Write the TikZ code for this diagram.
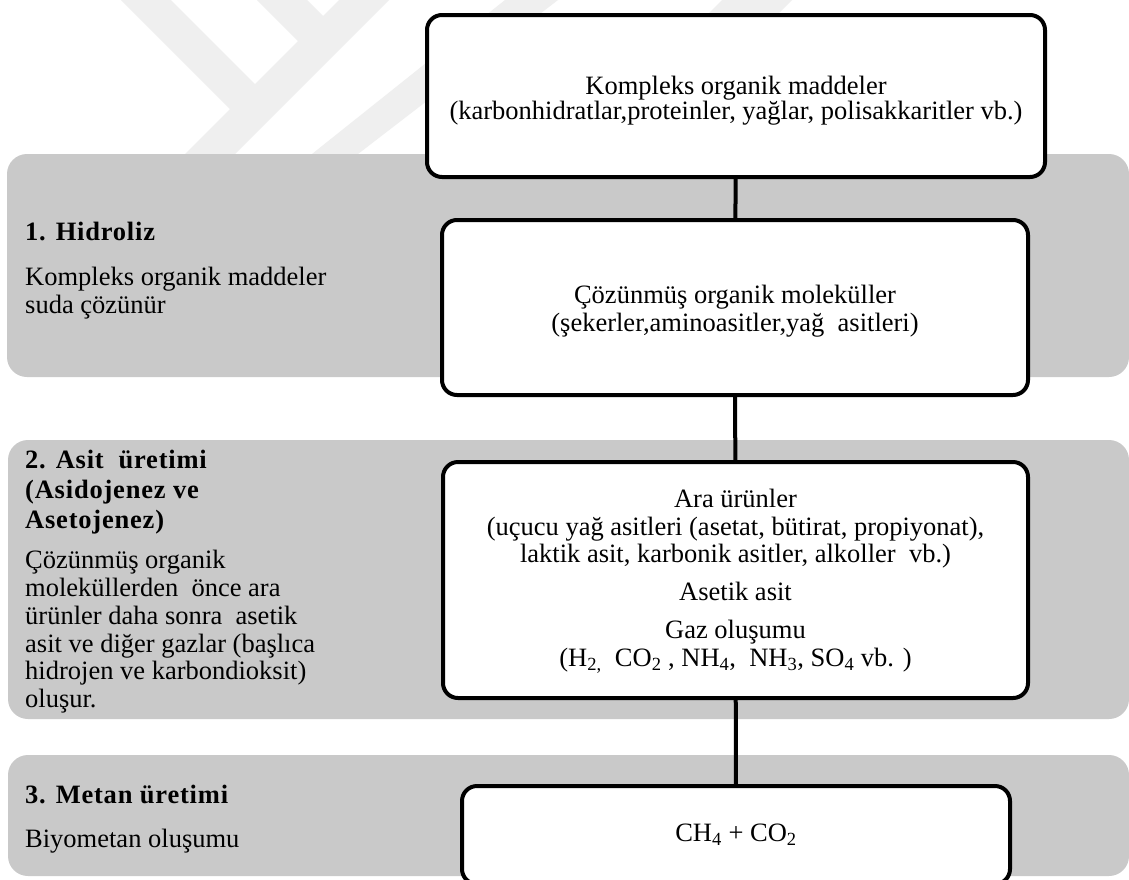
\documentclass[tikz,border=0pt]{standalone}
\usepackage{fontspec}
\setmainfont{Liberation Serif}

\definecolor{bandgray}{RGB}{201,201,201}
\definecolor{markgray}{RGB}{239,239,239}

\newcommand{\boxfont}{\fontsize{26.5}{27.5}\selectfont}
\newcommand{\stagefont}{\fontsize{26.5}{30}\selectfont\bfseries\addfontfeatures{LetterSpace=3}}
\newcommand{\stagenotefont}{\fontsize{26.5}{27.8}\selectfont}
\newcommand{\lift}[1]{\rule{0pt}{#1}}

\begin{document}
\begin{tikzpicture}[x=1pt,y=-1pt,
  band/.style={fill=bandgray, rounded corners=20pt},
  wmark/.style={fill=markgray},
  stepbox/.style={draw, line width=4pt, fill=white, rounded corners=15pt,
    align=center, inner sep=0pt, font=\boxfont},
  link/.style={line width=4pt},
  stagehead/.style={anchor=north west, align=left, inner sep=0pt, font=\stagefont},
  stagenote/.style={anchor=north west, align=left, inner sep=0pt, font=\stagenotefont}]

\fill[white] (0,0) rectangle (1129,879);
\useasboundingbox (0,0) rectangle (1129,879);
\clip (0,0) rectangle (1129,879);

% faint watermark
\fill[wmark] (121,0) -- (171,0) -- (275,104) -- (250,129) -- cycle;
\fill[wmark] (185,154) -- (235,154) -- (389,0) -- (339,0) -- cycle;
\fill[wmark] (257,0) -- (307,0) -- (330,23) -- (305,48) -- cycle;
\fill[wmark] (312,154) -- (358,154) -- (558,0) -- (505,0) -- cycle;
\fill[wmark] (722,0) -- (792,0) -- (778,14) -- (708,14) -- cycle;

% stage bands
\fill[band] (7,154) rectangle (1129,377);
\fill[band] (8,440) rectangle (1129,719);
\fill[band] (8,755) rectangle (1129,876);

% process boxes
\node[stepbox, minimum width=618pt, minimum height=162pt,
  font=\fontsize{26.5}{24}\selectfont] (cmplx) at (736,96)
  {\lift{27pt}Kompleks organik maddeler\\(karbonhidratlar,proteinler, yağlar, polisakkaritler vb.)};
\node[stepbox, minimum width=586pt, minimum height=175pt] (solved) at (735,307.5)
  {\lift{26pt}Çözünmüş organik moleküller\\(şekerler,aminoasitler,yağ\ \ asitleri)};
\node[stepbox, minimum width=585pt, minimum height=236pt] (inter) at (735.5,580)
  {\lift{21pt}Ara ürünler\\(uçucu yağ asitleri (asetat, bütirat, propiyonat),\\laktik asit, karbonik asitler, alkoller\ \ vb.)\\[10.5pt]Asetik asit\\[10.5pt]Gaz oluşumu\\(H\textsubscript{2,}\ \ CO\textsubscript{2} , NH\textsubscript{4},\ \ NH\textsubscript{3}, SO\textsubscript{4} vb. )};
\node[stepbox, minimum width=548pt, minimum height=98pt] (methane) at (736,835)
  {CH\textsubscript{4} + CO\textsubscript{2}};

\draw[link] (cmplx) -- (solved);
\draw[link] (solved) -- (inter);
\draw[link] (inter) -- (methane);

% stage labels
\node[stagehead] (hidrolizhd) at (25,222) {1. Hidroliz};
\node[stagenote] (hidrolizds) at (25,267) {Kompleks organik maddeler\\suda çözünür};
\node[stagehead] (asithd) at (25,450) {2. Asit\ \ üretimi\\(Asidojenez ve\\Asetojenez)};
\node[stagenote] (asitds) at (25,550) {Çözünmüş organik\\moleküllerden\ \ önce ara\\ürünler daha sonra\ \ asetik\\asit ve diğer gazlar (başlıca\\hidrojen ve karbondioksit)\\oluşur.};
\node[stagehead] (metanhd) at (25,785) {3. Metan üretimi};
\node[stagenote] (metands) at (25,829) {Biyometan oluşumu};
\end{tikzpicture}
\end{document}
